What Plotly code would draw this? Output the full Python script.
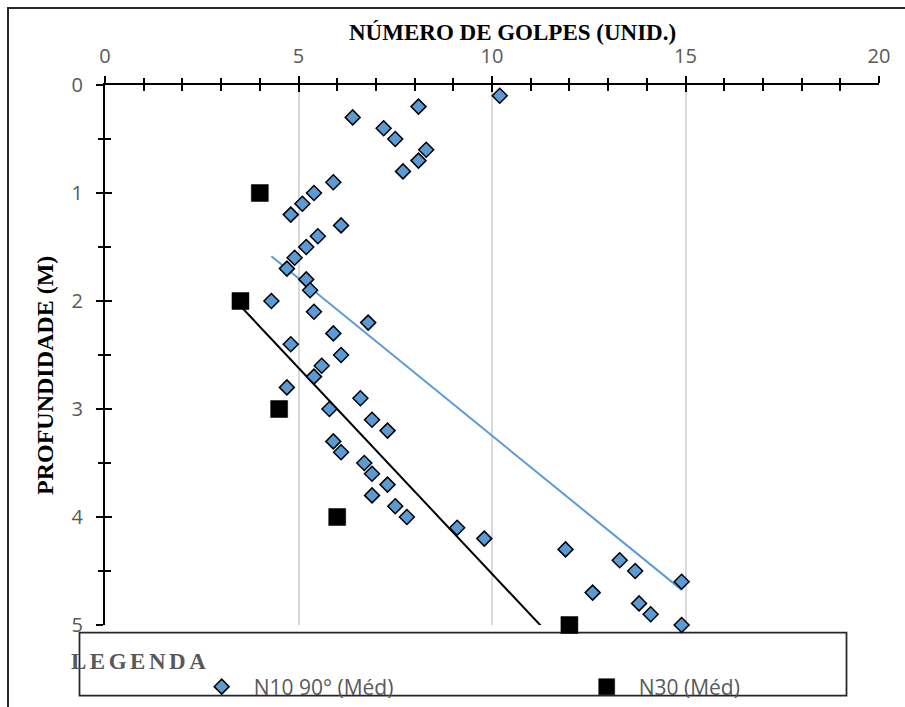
import numpy as np
import plotly.graph_objects as go

# ---------------- data ----------------
depth_n10 = [0.1, 0.2, 0.3, 0.4, 0.5, 0.6, 0.7, 0.8, 0.9, 1.0,
             1.1, 1.2, 1.3, 1.4, 1.5, 1.6, 1.7, 1.8, 1.9, 2.0,
             2.1, 2.2, 2.3, 2.4, 2.5, 2.6, 2.7, 2.8, 2.9, 3.0,
             3.1, 3.2, 3.3, 3.4, 3.5, 3.6, 3.7, 3.8, 3.9, 4.0,
             4.1, 4.2, 4.3, 4.4, 4.5, 4.6, 4.7, 4.8, 4.9, 5.0]
golpes_n10 = [10.2, 8.1, 6.4, 7.2, 7.5, 8.3, 8.1, 7.7, 5.9, 5.4,
              5.1, 4.8, 6.1, 5.5, 5.2, 4.9, 4.7, 5.2, 5.3, 4.3,
              5.4, 6.8, 5.9, 4.8, 6.1, 5.6, 5.4, 4.7, 6.6, 5.8,
              6.9, 7.3, 5.9, 6.1, 6.7, 6.9, 7.3, 6.9, 7.5, 7.8,
              9.1, 9.8, 11.9, 13.3, 13.7, 14.9, 12.6, 13.8, 14.1, 14.9]

depth_n30 = [1, 2, 3, 4, 5]
golpes_n30 = [4.0, 3.5, 4.5, 6.0, 12.0]

name_n10 = "N10 90° (Méd)"
name_n30 = "N30 (Méd)"
x_title = "NÚMERO DE GOLPES (UNID.)"
y_title = "PROFUNDIDADE (M)"
legend_title = "LEGENDA"
x_ticks = [0, 5, 10, 15, 20]
y_ticks = [0, 1, 2, 3, 4, 5]

# ---------------- linear trendlines (least squares, like Excel) ----------------
def trend(xs, ys):
    a, b = np.polyfit(np.array(xs, float), np.array(ys, float), 1)
    xx = np.array([min(xs), max(xs)])
    return xx, a * xx + b

tx10, ty10 = trend(golpes_n10, depth_n10)
tx30, ty30 = trend(golpes_n30, depth_n30)

# ---------------- layout geometry (pixels) ----------------
W, H = 905, 707
L, R, T, B = 105, 879, 85, 625

def px(p):
    return (p - L) / (R - L)

def py(p):
    return (B - p) / (B - T)

BLUE = "#5B9BD5"
GRAY = "#595959"
TICKFONT = dict(family="Open Sans", size=20, color=GRAY)

fig = go.Figure()

# trendlines (drawn beneath the markers)
fig.add_trace(go.Scatter(x=tx10, y=ty10, mode="lines", line=dict(color=BLUE, width=2),
                         showlegend=False, hoverinfo="skip", xaxis="x", yaxis="y"))
fig.add_trace(go.Scatter(x=tx30, y=ty30, mode="lines", line=dict(color="black", width=2),
                         showlegend=False, hoverinfo="skip", xaxis="x", yaxis="y"))

# markers on the overlay axes (drawn on top)
fig.add_trace(go.Scatter(x=golpes_n10, y=depth_n10, mode="markers", name=name_n10,
                         marker=dict(symbol="diamond", size=11.5, color=BLUE,
                                     line=dict(color="black", width=1.5)),
                         legendwidth=316,
                         cliponaxis=False, xaxis="x2", yaxis="y2"))
fig.add_trace(go.Scatter(x=golpes_n30, y=depth_n30, mode="markers", name=name_n30,
                         marker=dict(symbol="square", size=17, color="black",
                                     line=dict(color="black", width=0.5)),
                         legendwidth=110,
                         cliponaxis=False, xaxis="x2", yaxis="y2"))

common_x = dict(range=[0, 20], side="top", zeroline=False, fixedrange=True)
common_y = dict(range=[5, 0], zeroline=False, fixedrange=True)

fig.update_layout(
    width=W, height=H,
    margin=dict(l=L, r=W - R, t=T, b=H - B, pad=0, autoexpand=False),
    paper_bgcolor="white", plot_bgcolor="white",
    xaxis=dict(**common_x, tickvals=x_ticks, ticks="outside", ticklen=7, tickwidth=2,
               tickcolor="black", showline=True, linecolor="black", linewidth=2,
               showgrid=True, gridcolor="#D9D9D9", gridwidth=1.5,
               tickfont=TICKFONT, ticklabelstandoff=5,
               minor=dict(dtick=1, ticks="outside", ticklen=5.5, tickwidth=1.5,
                          tickcolor="black", showgrid=False),
               anchor="y"),
    yaxis=dict(**common_y, tickvals=y_ticks, ticks="outside", ticklen=7, tickwidth=2,
               tickcolor="black", showline=True, linecolor="black", linewidth=2,
               showgrid=False, tickfont=TICKFONT, ticklabelstandoff=9,
               minor=dict(dtick=0.5, ticks="outside", ticklen=5.5, tickwidth=1.5,
                          tickcolor="black", showgrid=False),
               anchor="x"),
    xaxis2=dict(**common_x, overlaying="x", matches="x", anchor="y", tickvals=x_ticks,
                ticks="inside", ticklen=7, tickwidth=2, tickcolor="black",
                showline=False, showgrid=False, showticklabels=False,
                minor=dict(dtick=1, ticks="inside", ticklen=5.5, tickwidth=1.5,
                           tickcolor="black", showgrid=False)),
    yaxis2=dict(**common_y, overlaying="y", matches="y", anchor="x", tickvals=y_ticks,
                ticks="inside", ticklen=7, tickwidth=2, tickcolor="black",
                showline=False, showgrid=False, showticklabels=False,
                minor=dict(dtick=0.5, ticks="inside", ticklen=5.5, tickwidth=1.5,
                           tickcolor="black", showgrid=False)),
    showlegend=True,
    legend=dict(orientation="h", x=(221.7 - 32) / W, y=1 - 687 / H,
                xanchor="left", yanchor="middle",
                xref="container", yref="container",
                font=dict(family="Open Sans", size=21, color=GRAY),
                bgcolor="rgba(0,0,0,0)", borderwidth=0,
                itemwidth=54, entrywidthmode="pixels",
                tracegroupgap=0),
    shapes=[
        # outer chart border
        dict(type="rect", xref="paper", yref="paper", x0=px(8), x1=px(915),
             y0=py(8), y1=py(715), line=dict(color="#262626", width=2), layer="below"),
        # legend box
        dict(type="rect", xref="paper", yref="paper", x0=px(79.5), x1=px(846.5),
             y0=py(632.5), y1=py(695.5), line=dict(color="#262626", width=1.75),
             layer="below"),
    ],
    annotations=[
        dict(text="<b>" + x_title + "</b>", xref="paper", yref="paper",
             x=px(512.5), y=py(32), xanchor="center", yanchor="middle", showarrow=False,
             font=dict(family="Liberation Serif", size=23, color="black")),
        dict(text="<b>" + y_title + "</b>", xref="paper", yref="paper",
             x=px(44.5), y=py(375.5), xanchor="center", yanchor="middle", showarrow=False,
             textangle=-90,
             font=dict(family="Liberation Serif", size=24, color="black")),
        dict(text='<b><span style="letter-spacing:3.5px">' + legend_title + "</span></b>",
             xref="paper", yref="paper", x=px(69), y=py(661), xanchor="left",
             yanchor="middle", showarrow=False,
             font=dict(family="Liberation Serif", size=23, color=GRAY)),
    ],
)

fig.write_html("out.html")
